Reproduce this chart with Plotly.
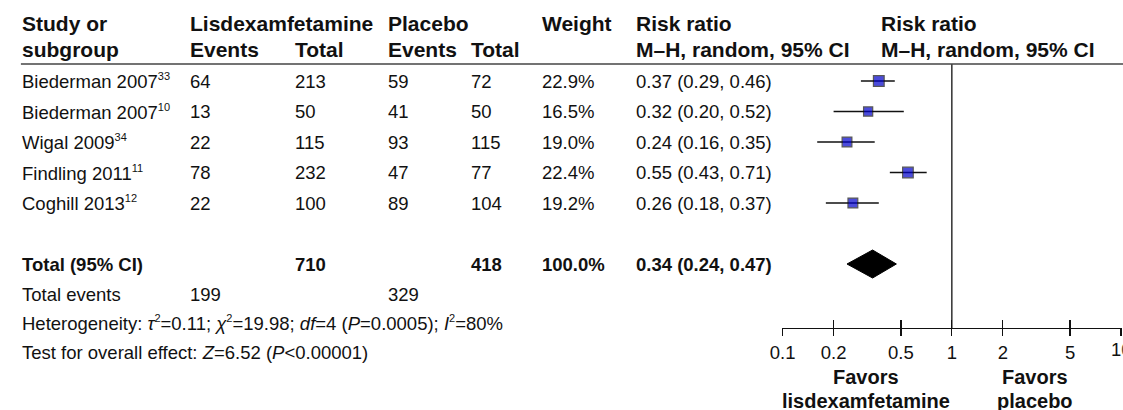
import plotly.graph_objects as go

SUP = '<sup><span style="font-size:11px">{}</span></sup>'

# ---------------- data ----------------
study_names = ["Biederman 2007", "Biederman 2007", "Wigal 2009", "Findling 2011", "Coghill 2013"]
study_refs = ["33", "10", "34", "11", "12"]
lis_events = [64, 13, 22, 78, 22]
lis_total = [213, 50, 115, 232, 100]
pla_events = [59, 41, 93, 47, 89]
pla_total = [72, 50, 115, 77, 104]
weights = [22.9, 16.5, 19.0, 22.4, 19.2]
rr = [0.37, 0.32, 0.24, 0.55, 0.26]
rr_lo = [0.29, 0.20, 0.16, 0.43, 0.18]
rr_hi = [0.46, 0.52, 0.35, 0.71, 0.37]

total_lis = 710
total_pla = 418
total_weight = "100.0%"
total_rr = 0.34
total_lo = 0.24
total_hi = 0.47
events_lis = 199
events_pla = 329

heterogeneity = ("Heterogeneity: <i>τ</i>" + SUP.format("2") + "=0.11; <i>χ</i>" + SUP.format("2")
                 + "=19.98; <i>df</i>=4 (<i>P</i>=0.0005); <i>I</i>" + SUP.format("2") + "=80%")
overall = "Test for overall effect: <i>Z</i>=6.52 (<i>P</i>&lt;0.00001)"

tick_vals = [0.1, 0.2, 0.5, 1, 2, 5, 10]
tick_text = ["0.1", "0.2", "0.5", "1", "2", "5", "10"]

studies = [n + SUP.format(r) for n, r in zip(study_names, study_refs)]

# ---------------- layout helpers ----------------
W, H = 1123, 410
ROW0, STEP = 81.0, 30.5          # pixel of first study row, row spacing
FONT = "Liberation Sans, Arial, sans-serif"
TXT = "#111111"
BODY = 18.5
HEAD = 21
FOOT = 20


def xp(p):
    return p / W


def yp(p):
    return 1 - p / H


def row_of(p):
    return (p - ROW0) / STEP


axis_px = 328
sep_px = 64
total_row = 6
events_row = row_of(294)
het_row = row_of(323)
test_row = row_of(352)

col_x = [10, 180, 286, 380, 464, 536, 631]
plot_x0, plot_x1 = 779, 1121
eps = 0.004                      # tiny padding of the log range (in decades)
px_per_dec = (plot_x1 - plot_x0) / 2
rng = [-1 - eps, 1 + eps]
dom = [xp(plot_x0 - eps * px_per_dec), xp(plot_x1 + eps * px_per_dec)]

# the last tick label sits on the page edge: drawn separately so it can be clipped
axis_ticktext = tick_text[:-1] + [""]

fig = go.Figure()

# CI whiskers
xs, ys = [], []
for i, (l, h) in enumerate(zip(rr_lo, rr_hi)):
    xs += [l, h, None]
    ys += [i, i, None]
fig.add_trace(go.Scatter(x=xs, y=ys, mode="lines", line=dict(color=TXT, width=1.3),
                         hoverinfo="skip", showlegend=False))

# point estimates
fig.add_trace(go.Scatter(
    x=rr, y=list(range(len(rr))), mode="markers",
    marker=dict(symbol="square", size=[5 + 0.25 * w for w in weights], color="#0000CC",
                line=dict(color="#111111", width=1.2)),
    hoverinfo="skip", showlegend=False))

# pooled diamond
dh = 14 / STEP
fig.add_trace(go.Scatter(
    x=[total_lo, total_rr, total_hi, total_rr, total_lo],
    y=[total_row, total_row - dh, total_row, total_row + dh, total_row],
    mode="lines", fill="toself", fillcolor="black", line=dict(color="black", width=1),
    hoverinfo="skip", showlegend=False))

# line of no effect
fig.add_trace(go.Scatter(x=[1, 1], y=[row_of(sep_px), row_of(axis_px)], mode="lines",
                         line=dict(color=TXT, width=1.3), hoverinfo="skip", showlegend=False))

# helper trace to anchor the upward-tick axis
fig.add_trace(go.Scatter(x=tick_vals, y=[None] * len(tick_vals), xaxis="x2", yaxis="y",
                         mode="markers", hoverinfo="skip", showlegend=False))

ann = []


def add(text, x, y, size=BODY, bold=False, yref="y", xanchor="left"):
    t = f"<b>{text}</b>" if bold else text
    ann.append(dict(text=t, x=xp(x), xref="paper", y=y, yref=yref, xanchor=xanchor,
                    yanchor="middle", showarrow=False,
                    font=dict(family=FONT, size=size, color=TXT)))


# header
h1, h2 = yp(23), yp(49)
add("Study or", col_x[0] - 2, h1, HEAD, True, "paper")
add("subgroup", col_x[0] - 2, h2, HEAD, True, "paper")
add("Lisdexamfetamine", col_x[1] - 2, h1, HEAD, True, "paper")
add("Events", col_x[1] - 2, h2, HEAD, True, "paper")
add("Total", col_x[2] - 2, h2, HEAD, True, "paper")
add("Placebo", col_x[3] - 2, h1, HEAD, True, "paper")
add("Events", col_x[3] - 2, h2, HEAD, True, "paper")
add("Total", col_x[4] - 2, h2, HEAD, True, "paper")
add("Weight", col_x[5] - 2, h1, HEAD, True, "paper")
add("Risk ratio", col_x[6] - 2, h1, HEAD, True, "paper")
add("M–H, random, 95% CI", col_x[6] - 2, h2, HEAD, True, "paper")
add("Risk ratio", 878 - 2, h1, HEAD, True, "paper")
add("M–H, random, 95% CI", 878 - 2, h2, HEAD, True, "paper")

# study rows
for i, s in enumerate(studies):
    add(s, col_x[0] - 2, i)
    add(str(lis_events[i]), col_x[1] - 2, i)
    add(str(lis_total[i]), col_x[2] - 2, i)
    add(str(pla_events[i]), col_x[3] - 2, i)
    add(str(pla_total[i]), col_x[4] - 2, i)
    add(f"{weights[i]:.1f}%", col_x[5] - 2, i)
    add(f"{rr[i]:.2f} ({rr_lo[i]:.2f}, {rr_hi[i]:.2f})", col_x[6] - 2, i)

# total row
add("Total (95% CI)", col_x[0] - 2, total_row, bold=True)
add(str(total_lis), col_x[2] - 2, total_row, bold=True)
add(str(total_pla), col_x[4] - 2, total_row, bold=True)
add(total_weight, col_x[5] - 2, total_row, bold=True)
add(f"{total_rr:.2f} ({total_lo:.2f}, {total_hi:.2f})", col_x[6] - 2, total_row, bold=True)

add("Total events", col_x[0] - 2, events_row)
add(str(events_lis), col_x[1] - 2, events_row)
add(str(events_pla), col_x[3] - 2, events_row)
add(heterogeneity, col_x[0] - 2, het_row)
add(overall, col_x[0] - 2, test_row)

# favours labels
add("Favors", 863, yp(377), FOOT, True, "paper", "center")
add("lisdexamfetamine", 863, yp(401), FOOT, True, "paper", "center")
add("Favors", 1034, yp(377), FOOT, True, "paper", "center")
add("placebo", 1034, yp(401), FOOT, True, "paper", "center")

# last tick label, clipped by the page edge as in the original
lab_w = 2 * 0.556 * BODY
lab_x0 = plot_x1 - lab_w / 2
ann.append(dict(text=tick_text[-1], x=xp(lab_x0), xref="paper", y=yp(349), yref="paper",
                xanchor="left", yanchor="middle", showarrow=False, align="left",
                width=W - lab_x0 - 0.5, borderpad=0, borderwidth=0,
                font=dict(family=FONT, size=BODY, color=TXT)))

shapes = [dict(type="line", xref="paper", yref="paper", x0=xp(9), x1=1.0,
               y0=yp(sep_px), y1=yp(sep_px), line=dict(color="#444444", width=1.6))]

fig.update_layout(
    width=W, height=H, margin=dict(l=0, r=0, t=0, b=0),
    paper_bgcolor="white", plot_bgcolor="white",
    font=dict(family=FONT, size=BODY, color=TXT),
    xaxis=dict(type="log", range=rng, domain=dom, anchor="free", position=yp(axis_px),
               showline=True, linecolor=TXT, linewidth=1.3, ticks="outside", ticklen=7,
               tickwidth=1.3, tickcolor=TXT, tickvals=tick_vals, ticktext=axis_ticktext,
               tickfont=dict(family=FONT, size=BODY, color=TXT), showgrid=False, zeroline=False,
               ticklabeloverflow="hide past div", fixedrange=True),
    xaxis2=dict(type="log", range=rng, domain=dom, anchor="free", position=yp(axis_px),
                overlaying="x", ticks="inside", ticklen=8, tickwidth=1.3, tickcolor=TXT,
                tickvals=tick_vals, showticklabels=False, showgrid=False, zeroline=False,
                showline=False, fixedrange=True),
    yaxis=dict(range=[(H - ROW0) / STEP, -ROW0 / STEP], visible=False, showgrid=False,
               zeroline=False, domain=[0, 1], fixedrange=True),
    annotations=ann, shapes=shapes, showlegend=False,
)

post = (
    "document.documentElement.style.overflow='hidden';"
    "document.body.style.margin='0';"
    "document.body.style.overflow='hidden';"
    "document.querySelectorAll('.plotly-graph-div, .svg-container, .main-svg').forEach("
    "function(e){e.style.overflow='hidden';});"
)
fig.write_html("out.html", config={"displayModeBar": False, "staticPlot": True},
               post_script=post)
